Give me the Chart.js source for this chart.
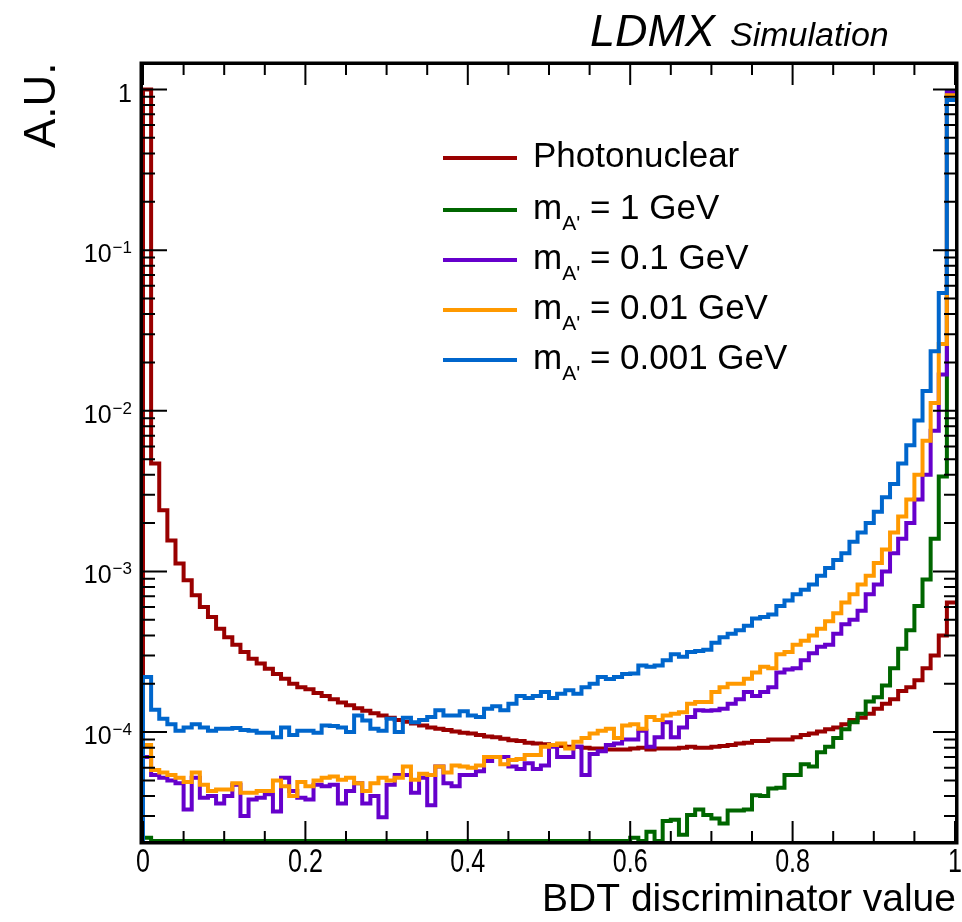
<!DOCTYPE html>
<html lang="en">
<head>
    <meta charset="UTF-8">
    <title>BDT discriminator value</title>
    <style>
        html, body { margin: 0; background: #fff; }
        canvas { display: block; }
    </style>
</head>
<body>
<canvas id="myChart" width="962" height="922"></canvas>
<script src="https://cdn.jsdelivr.net/npm/chart.js@4.4.1/dist/chart.umd.min.js"></script>
<script>
    // histogram binning (100 bins between 0 and 1)
    const nBins = 100;
    const xMin = 0, xMax = 1;
    const yMin = 2.1e-5, yMax = 1.42;

    const xTicks = [0, 0.2, 0.4, 0.6, 0.8, 1];
    const yTickExponents = [0, -1, -2, -3, -4];

    const seriesNames = ['Photonuclear', '1', '0.1', '0.01', '0.001'];
    const seriesColors = ['#990000', '#006600', '#6600cc', '#ff9900', '#0066cc'];

    // values per bin (0 = empty bin)
    const photonuclear = [
        1.0, 4.7e-3, 2.4e-3, 1.56e-3, 1.12e-3, 8.8e-4, 7.1e-4, 6.0e-4, 5.2e-4, 4.4e-4,
        3.9e-4, 3.5e-4, 3.15e-4, 2.86e-4, 2.67e-4, 2.48e-4, 2.3e-4, 2.15e-4, 2.0e-4, 1.9e-4,
        1.85e-4, 1.75e-4, 1.68e-4, 1.6e-4, 1.53e-4, 1.47e-4, 1.41e-4, 1.36e-4, 1.31e-4, 1.27e-4,
        1.23e-4, 1.19e-4, 1.16e-4, 1.13e-4, 1.1e-4, 1.07e-4, 1.05e-4, 1.03e-4, 1.01e-4, 0.99e-4,
        0.98e-4, 0.96e-4, 0.94e-4, 0.93e-4, 0.91e-4, 0.89e-4, 0.88e-4, 0.86e-4, 0.85e-4, 0.84e-4,
        0.83e-4, 0.82e-4, 0.81e-4, 0.81e-4, 0.80e-4, 0.79e-4, 0.79e-4, 0.78e-4, 0.78e-4, 0.78e-4,
        0.79e-4, 0.80e-4, 0.78e-4, 0.79e-4, 0.79e-4, 0.79e-4, 0.80e-4, 0.81e-4, 0.80e-4, 0.80e-4,
        0.81e-4, 0.82e-4, 0.83e-4, 0.85e-4, 0.86e-4, 0.88e-4, 0.88e-4, 0.90e-4, 0.90e-4, 0.90e-4,
        0.93e-4, 0.96e-4, 0.98e-4, 1.01e-4, 1.04e-4, 1.07e-4, 1.12e-4, 1.19e-4, 1.23e-4, 1.3e-4,
        1.4e-4, 1.5e-4, 1.6e-4, 1.8e-4, 1.9e-4, 2.1e-4, 2.5e-4, 3.0e-4, 4.0e-4, 6.4e-4
    ];
    const mass1GeV = [
        2.2e-5, 0, 0, 0, 0, 0, 0, 0, 0, 0,
        0, 0, 0, 0, 0, 0, 0, 0, 0, 0,
        0, 0, 0, 0, 0, 0, 0, 0, 0, 0,
        0, 0, 0, 0, 0, 0, 0, 0, 0, 0,
        0, 0, 0, 0, 0, 0, 0, 0, 0, 0,
        0, 0, 0, 0, 0, 0, 0, 0, 0, 0,
        2.2e-5, 0, 2.4e-5, 0, 2.8e-5, 2.85e-5, 2.3e-5, 3.05e-5, 3.3e-5, 3.05e-5,
        2.9e-5, 2.7e-5, 3.25e-5, 3.25e-5, 3.3e-5, 4.05e-5, 4.0e-5, 4.45e-5, 4.5e-5, 5.4e-5,
        5.4e-5, 6.3e-5, 6.1e-5, 7.5e-5, 8.1e-5, 9.2e-5, 1.04e-4, 1.15e-4, 1.3e-4, 1.55e-4,
        1.65e-4, 1.95e-4, 2.5e-4, 3.3e-4, 4.3e-4, 6.1e-4, 8.9e-4, 1.6e-3, 3.9e-3, 0.98
    ];
    const mass100MeV = [
        7.0e-5, 5.4e-5, 5.2e-5, 5.0e-5, 4.8e-5, 3.3e-5, 5.2e-5, 3.9e-5, 4.0e-5, 3.6e-5,
        4.0e-5, 4.7e-5, 3.0e-5, 3.8e-5, 3.9e-5, 4.1e-5, 3.2e-5, 5.2e-5, 4.3e-5, 3.9e-5,
        3.8e-5, 4.7e-5, 4.6e-5, 4.7e-5, 3.6e-5, 4.3e-5, 4.8e-5, 3.6e-5, 4.0e-5, 2.95e-5,
        4.7e-5, 5.4e-5, 5.4e-5, 4.2e-5, 5.2e-5, 3.5e-5, 6.1e-5, 4.8e-5, 4.6e-5, 5.4e-5,
        5.4e-5, 5.7e-5, 6.6e-5, 7.0e-5, 7.0e-5, 6.1e-5, 5.9e-5, 6.4e-5, 5.9e-5, 6.2e-5,
        8.1e-5, 7.0e-5, 7.0e-5, 8.1e-5, 5.4e-5, 7.3e-5, 7.6e-5, 8.3e-5, 8.5e-5, 9.0e-5,
        9.0e-5, 1.02e-4, 8.1e-5, 9.3e-5, 1.15e-4, 9.3e-5, 1.07e-4, 1.24e-4, 1.37e-4, 1.36e-4,
        1.37e-4, 1.4e-4, 1.5e-4, 1.6e-4, 1.78e-4, 1.68e-4, 1.78e-4, 1.9e-4, 2.35e-4, 2.45e-4,
        2.5e-4, 2.8e-4, 3.1e-4, 3.4e-4, 3.5e-4, 4.1e-4, 4.7e-4, 5.0e-4, 5.7e-4, 7.2e-4,
        8.3e-4, 1.0e-3, 1.3e-3, 1.6e-3, 2.0e-3, 2.8e-3, 4.0e-3, 7.5e-3, 0.0168, 0.96
    ];
    const mass10MeV = [
        8.3e-5, 5.8e-5, 5.6e-5, 5.4e-5, 5.2e-5, 4.9e-5, 5.6e-5, 4.7e-5, 4.3e-5, 4.4e-5,
        4.4e-5, 4.8e-5, 4.2e-5, 4.2e-5, 4.3e-5, 4.3e-5, 5.0e-5, 4.6e-5, 4.0e-5, 4.9e-5,
        4.6e-5, 5.0e-5, 5.2e-5, 5.3e-5, 5.05e-5, 5.2e-5, 4.8e-5, 4.3e-5, 4.8e-5, 5.2e-5,
        5.0e-5, 5.2e-5, 6.1e-5, 5.05e-5, 5.5e-5, 5.4e-5, 6.1e-5, 5.6e-5, 6.2e-5, 6.1e-5,
        6.0e-5, 6.2e-5, 7.0e-5, 7.0e-5, 6.3e-5, 6.7e-5, 6.8e-5, 7.2e-5, 7.2e-5, 8.1e-5,
        8.3e-5, 8.5e-5, 7.9e-5, 8.7e-5, 9.2e-5, 9.8e-5, 1.02e-4, 1.05e-4, 9.2e-5, 1.1e-4,
        1.12e-4, 1.05e-4, 1.24e-4, 1.19e-4, 1.27e-4, 1.3e-4, 1.33e-4, 1.5e-4, 1.54e-4, 1.54e-4,
        1.78e-4, 1.9e-4, 2.0e-4, 2.0e-4, 2.15e-4, 2.35e-4, 2.55e-4, 2.5e-4, 3.05e-4, 3.15e-4,
        3.5e-4, 3.7e-4, 4.0e-4, 4.4e-4, 4.9e-4, 5.5e-4, 6.4e-4, 7.2e-4, 8.3e-4, 9.4e-4,
        1.13e-3, 1.37e-3, 1.75e-3, 2.2e-3, 2.8e-3, 4.0e-3, 6.5e-3, 0.0112, 0.026, 0.92
    ];
    const mass1MeV = [
        2.2e-4, 1.38e-4, 1.21e-4, 1.12e-4, 1.02e-4, 1.07e-4, 1.12e-4, 1.07e-4, 1.02e-4, 1.05e-4,
        1.05e-4, 1.06e-4, 1.03e-4, 1.02e-4, 0.99e-4, 0.99e-4, 0.93e-4, 1.07e-4, 0.96e-4, 1.02e-4,
        1.02e-4, 0.99e-4, 1.1e-4, 1.09e-4, 1.07e-4, 1.0e-4, 1.27e-4, 1.18e-4, 1.05e-4, 1.02e-4,
        1.21e-4, 1.0e-4, 1.23e-4, 1.15e-4, 1.19e-4, 1.24e-4, 1.37e-4, 1.27e-4, 1.27e-4, 1.35e-4,
        1.27e-4, 1.24e-4, 1.4e-4, 1.45e-4, 1.37e-4, 1.5e-4, 1.68e-4, 1.63e-4, 1.68e-4, 1.78e-4,
        1.63e-4, 1.73e-4, 1.82e-4, 1.73e-4, 1.9e-4, 2.0e-4, 2.2e-4, 2.14e-4, 2.2e-4, 2.3e-4,
        2.32e-4, 2.6e-4, 2.55e-4, 2.6e-4, 2.8e-4, 3.05e-4, 2.95e-4, 3.15e-4, 3.2e-4, 3.25e-4,
        3.6e-4, 3.9e-4, 4.1e-4, 4.3e-4, 4.6e-4, 5.1e-4, 5.2e-4, 5.4e-4, 6.1e-4, 6.6e-4,
        7.2e-4, 7.7e-4, 8.3e-4, 9.4e-4, 1.05e-3, 1.18e-3, 1.3e-3, 1.53e-3, 1.75e-3, 2.0e-3,
        2.35e-3, 2.9e-3, 3.5e-3, 4.7e-3, 6.1e-3, 8.7e-3, 0.0133, 0.0235, 0.054, 0.86
    ];

    const seriesValues = [photonuclear, mass1GeV, mass100MeV, mass10MeV, mass1MeV];

    const fontFamily = '"Liberation Sans", Arial, Helvetica, sans-serif';

    // bin contents -> outline points, empty bins sit on the axis floor like ROOT does
    function histPoints(values) {
        const width = (xMax - xMin) / nBins;
        const pts = [{x: xMin, y: yMin}];
        values.forEach((v, i) => {
            pts.push({x: xMin + i * width, y: v > 0 ? v : yMin});
        });
        const last = values[values.length - 1];
        pts.push({x: xMax, y: last > 0 ? last : yMin});
        return pts;
    }

    const datasets = seriesValues.map((vals, i) => ({
        label: seriesNames[i],
        data: histPoints(vals),
        borderColor: seriesColors[i],
        borderWidth: 4,
        pointRadius: 0,
        fill: false,
        stepped: true,
        tension: 0,
        borderJoinStyle: 'miter',
        order: seriesValues.length - i
    }));

    const axesAndText = {
        id: 'axesAndText',
        afterDatasetsDraw(chart) {
            const ctx = chart.ctx;
            const a = chart.chartArea;
            const xs = chart.scales.x;
            const ys = chart.scales.y;
            ctx.save();
            ctx.strokeStyle = '#000';
            ctx.fillStyle = '#000';

            // x ticks, inside, bottom and top
            ctx.lineWidth = 2;
            for (let k = 0; k <= 20; k++) {
                const px = xs.getPixelForValue(k * 0.05);
                const len = k % 4 === 0 ? 20 : 10;
                ctx.beginPath();
                ctx.moveTo(px, a.bottom);
                ctx.lineTo(px, a.bottom - len);
                ctx.moveTo(px, a.top);
                ctx.lineTo(px, a.top + len);
                ctx.stroke();
            }
            // y ticks, log decades with minors
            for (let e = -5; e <= 0; e++) {
                for (let m = 1; m <= 9; m++) {
                    const v = m * Math.pow(10, e);
                    if (v < yMin || v > yMax) continue;
                    const py = ys.getPixelForValue(v);
                    const major = m === 1;
                    ctx.beginPath();
                    ctx.moveTo(a.left, py);
                    ctx.lineTo(a.left + (major ? 24 : 12), py);
                    ctx.moveTo(a.right, py);
                    ctx.lineTo(a.right - (major ? 22 : 11), py);
                    ctx.stroke();
                }
            }
            // frame, drawn just outside the plotting area
            const fw = 3.5;
            ctx.lineWidth = fw;
            ctx.strokeRect(a.left - fw / 2, a.top - fw / 2,
                a.right - a.left + fw, a.bottom - a.top + fw);

            // x tick labels (condensed like the original)
            ctx.textAlign = 'center';
            ctx.textBaseline = 'alphabetic';
            xTicks.forEach(v => {
                const px = xs.getPixelForValue(v);
                ctx.save();
                ctx.translate(px, 872);
                ctx.scale(0.76, 1);
                ctx.font = '33px ' + fontFamily;
                ctx.fillText(String(v), 0, 0);
                ctx.restore();
            });

            // y tick labels with superscript exponents
            const labelRight = 132;
            ctx.textAlign = 'right';
            yTickExponents.forEach(e => {
                const py = ys.getPixelForValue(Math.pow(10, e));
                if (e === 0) {
                    ctx.font = '25px ' + fontFamily;
                    ctx.fillText('1', labelRight, py + 13);
                    return;
                }
                const expText = '\u2212' + Math.abs(e);
                ctx.font = '17px ' + fontFamily;
                const expW = ctx.measureText(expText).width;
                ctx.fillText(expText, labelRight, py + 3);
                ctx.font = '25px ' + fontFamily;
                ctx.fillText('10', labelRight - expW - 1, py + 12);
            });

            // axis titles
            ctx.font = '39px ' + fontFamily;
            ctx.textAlign = 'right';
            ctx.fillText('BDT discriminator value', 956, 911);

            ctx.save();
            ctx.translate(55, 148);
            ctx.rotate(-Math.PI / 2);
            ctx.textAlign = 'left';
            ctx.font = '44px ' + fontFamily;
            ctx.fillText('A.U.', 0, 0);
            ctx.restore();

            // experiment label
            ctx.textAlign = 'left';
            ctx.font = 'italic 45px ' + fontFamily;
            ctx.fillText('LDMX', 590, 46);
            ctx.font = 'italic 34px ' + fontFamily;
            ctx.fillText('Simulation', 730, 46);

            // legend
            const rowY = [158, 210, 260, 310, 360];
            seriesNames.forEach((name, i) => {
                const y = rowY[i];
                ctx.strokeStyle = seriesColors[i];
                ctx.lineWidth = 4;
                ctx.beginPath();
                ctx.moveTo(443, y);
                ctx.lineTo(517, y);
                ctx.stroke();

                ctx.fillStyle = '#000';
                ctx.textAlign = 'left';
                let x = 533;
                ctx.font = '35px ' + fontFamily;
                if (i === 0) {
                    ctx.fillText(name, x, y + 9);
                    return;
                }
                ctx.fillText('m', x, y + 9);
                x += ctx.measureText('m').width;
                ctx.font = '21px ' + fontFamily;
                ctx.fillText("A'", x, y + 20);
                x += ctx.measureText("A'").width;
                ctx.font = '35px ' + fontFamily;
                ctx.fillText(' = ' + name + ' GeV', x, y + 9);
            });
            ctx.restore();
        }
    };

    const ctx = document.getElementById('myChart').getContext('2d');
    const chart = new Chart(ctx, {
        type: 'line',
        data: { datasets: datasets },
        options: {
            responsive: false,
            animation: false,
            devicePixelRatio: 1,
            layout: { padding: { top: 65, right: 7, left: 0, bottom: 0 } },
            plugins: {
                legend: { display: false },
                tooltip: { enabled: false }
            },
            scales: {
                x: {
                    type: 'linear',
                    min: xMin,
                    max: xMax,
                    grid: { display: false, drawTicks: false },
                    border: { display: false },
                    ticks: { display: false },
                    afterFit: s => { s.height = 81; s.paddingLeft = 0; s.paddingRight = 0; }
                },
                y: {
                    type: 'logarithmic',
                    min: yMin,
                    max: yMax,
                    grid: { display: false, drawTicks: false },
                    border: { display: false },
                    ticks: { display: false },
                    afterFit: s => { s.width = 143; }
                }
            }
        },
        plugins: [axesAndText]
    });
</script>
</body>
</html>
